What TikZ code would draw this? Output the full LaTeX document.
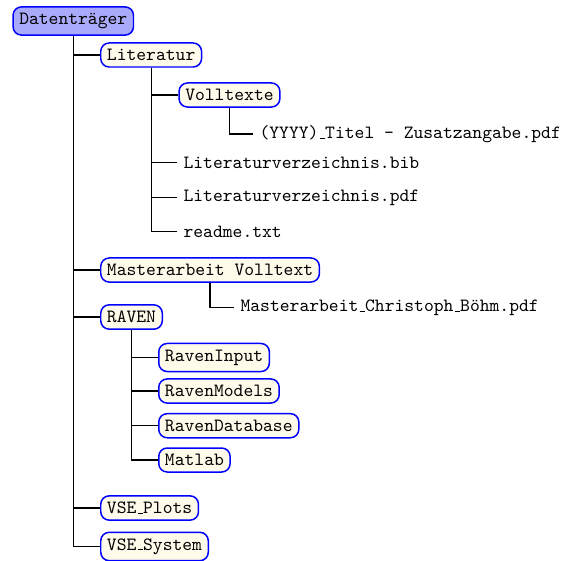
\documentclass[tikz,border=0pt]{standalone}
\usepackage{fontspec}
\setmonofont{Latin Modern Mono}
\newcommand\uscore{\leavevmode\kern.06em\vbox{\hrule width .3em}}
\definecolor{folderfill}{RGB}{255,251,234}
\definecolor{rootfill}{RGB}{170,170,250}
\tikzset{
  folder/.style={draw=blue, line width=0.8pt, rounded corners=4.5pt,
    fill=folderfill, anchor=west, font=\ttfamily},
  rootfolder/.style={folder, fill=rootfill},
  file/.style={anchor=west, font=\ttfamily},
  branch/.style={draw=black, line width=0.7pt},
}
\begin{document}
\begin{tikzpicture}[x=0.5348pt, y=-0.5348pt]
\useasboundingbox (0,0) rectangle (568,560);

% nodes
\node[rootfolder] (root) at (12.3,21) {Datenträger};
\node[folder] (lit) at (100,55) {Literatur};
\node[folder] (voll) at (178.3,95) {Volltexte};
\node[file] (titel) at (253,134) {(YYYY)\uscore Titel - Zusatzangabe.pdf};
\node[file] (bib) at (177,162.7) {Literaturverzeichnis.bib};
\node[file] (litpdf) at (177,197.7) {Literaturverzeichnis.pdf};
\node[file] (readme) at (177,231.7) {readme.txt};
\node[folder] (ma) at (100,270) {Masterarbeit Volltext};
\node[file] (mapdf) at (234,307.7) {Masterarbeit\uscore Christoph\uscore Böhm.pdf};
\node[folder] (raven) at (100,317) {RAVEN};
\node[folder] (rin) at (158,357.5) {RavenInput};
\node[folder] (rmod) at (158,391) {RavenModels};
\node[folder] (rdb) at (158,425.7) {RavenDatabase};
\node[folder] (mat) at (158,460) {Matlab};
\node[folder] (vplots) at (100,508) {VSE\uscore Plots};
\node[folder] (vsys) at (100,546.5) {VSE\uscore System};

% branches
\begin{scope}[on background layer/.try]
\foreach \c in {lit,ma,raven,vplots,vsys}
  \draw[branch] (root.south) |- (\c.west);
\foreach \c in {voll,bib,litpdf,readme}
  \draw[branch] (lit.south) |- (\c.west);
\draw[branch] (voll.south) |- (titel.west);
\draw[branch] (ma.south) |- (mapdf.west);
\foreach \c in {rin,rmod,rdb,mat}
  \draw[branch] (raven.south) |- (\c.west);
\end{scope}
\end{tikzpicture}
\end{document}
